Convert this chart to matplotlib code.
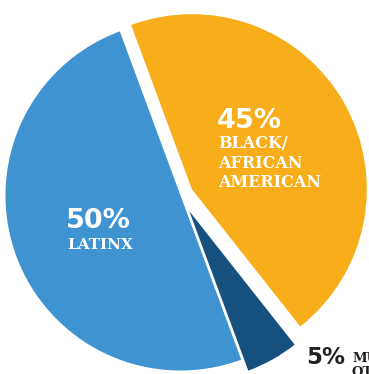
import matplotlib
matplotlib.use("Agg")
import matplotlib.pyplot as plt

# share of people by group
groups = ["BLACK/\nAFRICAN\nAMERICAN", "MULTIRACIAL\nOTHER", "LATINX"]
shares = [45, 5, 50]
colors = ["#F8AE1A", "#16507E", "#3F93D0"]
explode = [13, 18, 0]  # pie offsets, in pixels here

W, H = 369, 374


def px(x, y):
    # picture pixel -> data coords (y up)
    return x, H - y


fig = plt.figure(figsize=(W / 100, H / 100), dpi=100)
ax = fig.add_axes([0, 0, 1, 1])

wedges, _ = ax.pie(shares, colors=colors, explode=explode, startangle=110.3,
                   counterclock=False, radius=175, center=px(180.5, 195.5),
                   wedgeprops=dict(linewidth=0))
wedges[1].set_radius(170)  # small slice is drawn a touch smaller
ax.set_xlim(0, W)
ax.set_ylim(0, H)
ax.set_aspect("equal")
ax.axis("off")

pct_font = dict(family="DejaVu Sans", weight="bold", color="white")
lab_font = dict(family="DejaVu Serif", weight="bold", color="white")

# orange slice labels
ax.text(*px(217, 128), f"{shares[0]}%", fontsize=19.5, ha="left", va="baseline", **pct_font)
ax.text(*px(218, 135), groups[0], fontsize=11.5, ha="left", va="top",
        linespacing=1.2, **lab_font)

# blue slice labels
ax.text(*px(66, 228), f"{shares[2]}%", fontsize=19.5, ha="left", va="baseline", **pct_font)
ax.text(*px(67, 249), groups[2], fontsize=11, ha="left", va="baseline", **lab_font)

# dark slice label, runs off the edge like the original
ax.text(*px(306, 364), f"{shares[1]}%", fontsize=16.5, ha="left", va="baseline",
        family="DejaVu Sans", weight="bold", color="#231F20")
ax.text(*px(352, 352), groups[1], fontsize=9.5, ha="left", va="top",
        linespacing=1.1, family="DejaVu Serif", weight="bold", color="#231F20")

fig.savefig("out.png", dpi=100)
